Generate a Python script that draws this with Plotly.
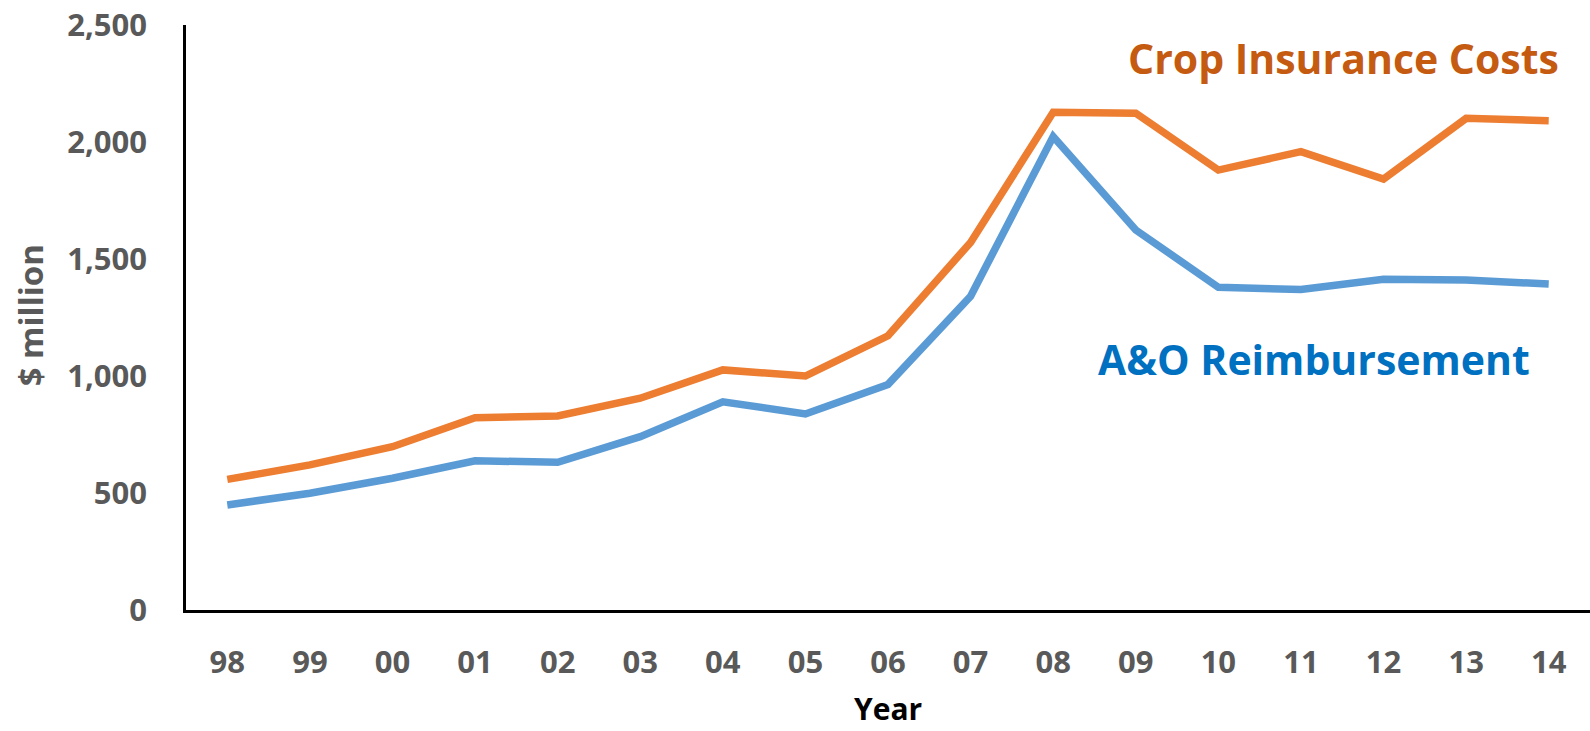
import plotly.graph_objects as go

years = ["98", "99", "00", "01", "02", "03", "04", "05", "06",
         "07", "08", "09", "10", "11", "12", "13", "14"]
crop_insurance_costs = [558, 620, 698, 822, 829, 905, 1026, 1000, 1172,
                        1571, 2127, 2123, 1880, 1959, 1842, 2101, 2091]
ao_reimbursement = [449, 499, 563, 638, 631, 741, 890, 838, 964,
                    1341, 2023, 1624, 1379, 1370, 1413, 1410, 1393]
y_ticks = [0, 500, 1000, 1500, 2000, 2500]
y_tick_text = ["0", "500", "1,000", "1,500", "2,000", "2,500"]

FONT = "Open Sans"
GRAY = "#595959"

fig = go.Figure()
fig.add_trace(go.Scatter(
    x=years, y=crop_insurance_costs, mode="lines",
    line=dict(color="#ED7D31", width=7.5), name="Crop Insurance Costs",
))
fig.add_trace(go.Scatter(
    x=years, y=ao_reimbursement, mode="lines",
    line=dict(color="#5B9BD5", width=7.5), name="A&O Reimbursement",
))

# series labels
fig.add_annotation(
    text="<b>Crop Insurance Costs</b>", xref="paper", yref="paper",
    x=0.979, y=0.944, xanchor="right", yanchor="middle", showarrow=False,
    font=dict(family=FONT, size=41, color="#C55A11"),
)
fig.add_annotation(
    text="<b>A&O Reimbursement</b>", xref="paper", yref="paper",
    x=0.959, y=0.429, xanchor="right", yanchor="middle", showarrow=False,
    font=dict(family=FONT, size=41, color="#0070C0"),
)

# axis titles
fig.add_annotation(
    text="<b>Year</b>", xref="paper", yref="paper",
    x=0.5, y=-0.169, xanchor="center", yanchor="middle", showarrow=False,
    font=dict(family=FONT, size=30, color="black"),
)
fig.add_annotation(
    text="<b>$ million</b>", xref="paper", yref="paper", textangle=-90,
    x=-0.111, y=0.504, xanchor="center", yanchor="middle", showarrow=False,
    font=dict(family=FONT, size=33, color=GRAY),
)

fig.update_layout(
    width=1590, height=731,
    margin=dict(l=186, r=0, t=25, b=121),
    plot_bgcolor="white", paper_bgcolor="white",
    showlegend=False,
    font=dict(family=FONT),
)
fig.update_xaxes(
    type="category", range=[-0.5, 16.5], automargin=False,
    showline=True, linecolor="black", linewidth=2.5,
    showgrid=False, ticks="", ticklabelstandoff=23,
    tickfont=dict(family=FONT, size=31, color=GRAY, weight="bold"),
)
fig.update_yaxes(
    range=[0, 2500], tickvals=y_ticks, ticktext=y_tick_text, automargin=False,
    showline=True, linecolor="black", linewidth=2.5,
    showgrid=False, zeroline=False, ticks="", ticklabelstandoff=30,
    tickfont=dict(family=FONT, size=31, color=GRAY, weight="bold"),
)

fig.write_html("out.html")
